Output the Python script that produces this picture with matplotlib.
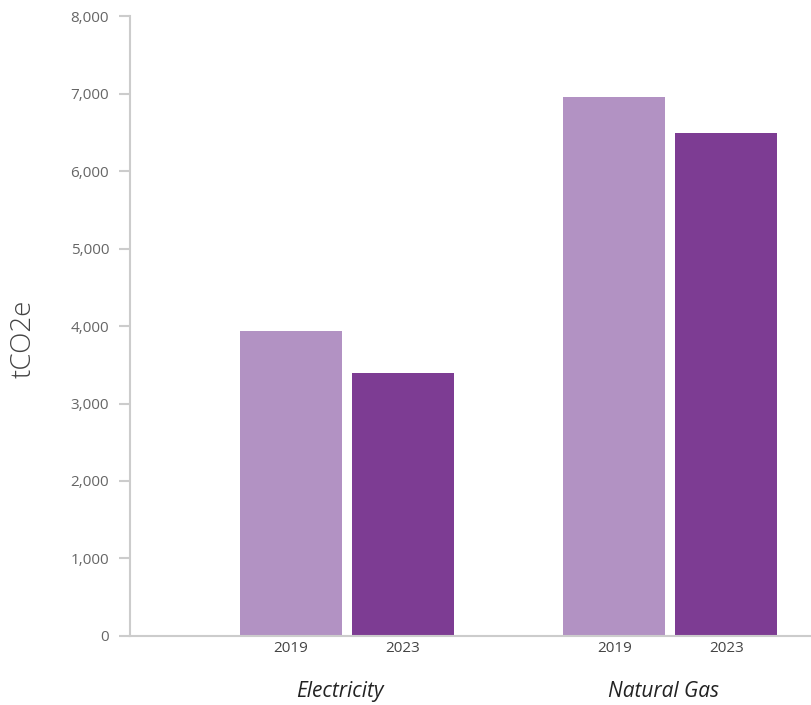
import numpy as np
import matplotlib.pyplot as plt

plt.rcParams['font.family'] = ['Open Sans', 'DejaVu Sans']

# -----------------
# Data
# -----------------

categories = ['Electricity', 'Natural Gas']
years = ['2019', '2023']
emissions_2019 = [3930, 6960]
emissions_2023 = [3390, 6490]

colors = ['#B292C3', '#7D3C93']

# -----------------
# Plot
# -----------------

fig = plt.figure(figsize=(8.12, 7.05), dpi=100)
ax = fig.add_axes([0.160, 0.098, 0.845, 0.879])

x = np.arange(len(categories))
width = 0.315
offset = 0.173

ax.bar(x - offset, emissions_2019, width, color=colors[0])
ax.bar(x + offset, emissions_2023, width, color=colors[1])

# year labels under each bar
tick_pos = np.concatenate([x - offset, x + offset])
tick_lab = [years[0]] * len(x) + [years[1]] * len(x)
ax.set_xticks(tick_pos)
ax.set_xticklabels(tick_lab, fontsize=11, color='#444444')
ax.tick_params(axis='x', length=0, pad=4)

# category names below the years
for xi, name in zip(x, categories):
    ax.text(xi - 0.02, -0.09, name, transform=ax.get_xaxis_transform(),
            ha='center', va='center', fontsize=15, style='italic', color='#222222')

ax.set_xlim(-0.67, 1.45)
ax.set_ylim(0, 8000)
ax.set_yticks(range(0, 8001, 1000))
ax.set_yticklabels([f'{v:,}' for v in range(0, 8001, 1000)], fontsize=11, color='#666666')
ax.tick_params(axis='y', length=8, width=1.5, color='#cccccc', pad=7)

ax.set_ylabel('tCO2e', fontsize=20, color='#444444', fontweight='light', va='center')
ax.yaxis.set_label_coords(-0.155, 0.479)

for side in ['top', 'right']:
    ax.spines[side].set_visible(False)
for side in ['left', 'bottom']:
    ax.spines[side].set_color('#cccccc')
    ax.spines[side].set_linewidth(1.5)

fig.savefig('out.png', dpi=100)
